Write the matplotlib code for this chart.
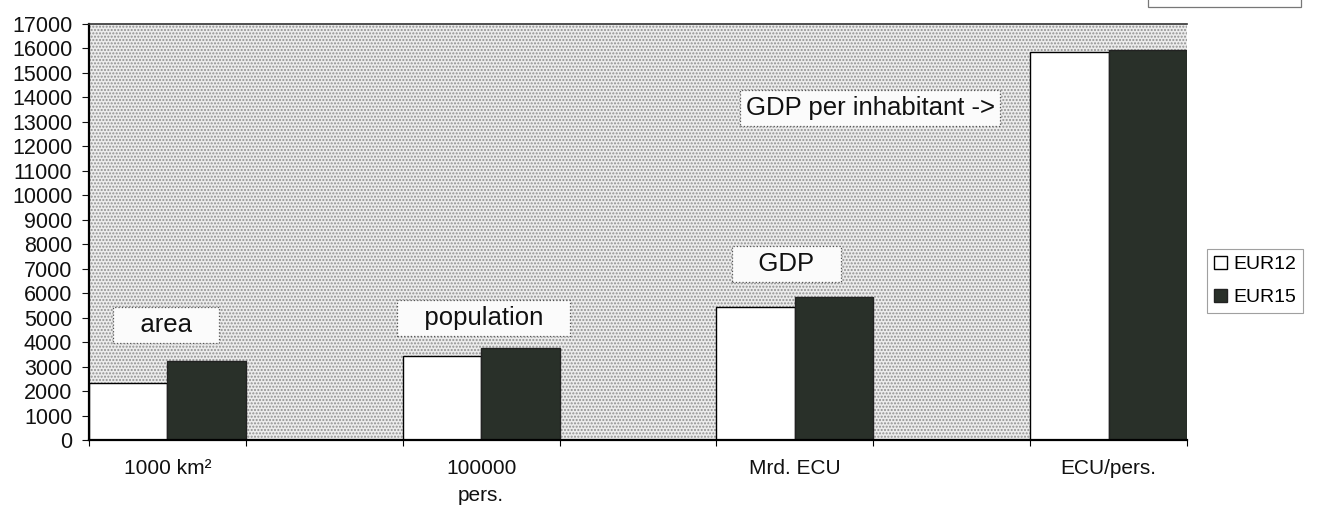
import numpy as np
import matplotlib.pyplot as plt
from matplotlib.patches import Rectangle

plt.rcParams['font.family'] = ['Liberation Sans', 'DejaVu Sans']
plt.rcParams['hatch.linewidth'] = 1.0

# EU12 vs EU15 key figures
units = ['1000 km²', '100000\npers.', 'Mrd. ECU', 'ECU/pers.']
eur12 = [2330, 3430, 5430, 15850]
eur15 = [3230, 3760, 5850, 15940]
series_names = ['EUR12', 'EUR15']

# boxed captions: text, x (category units), y (value)
captions = ['   area   ', '   population   ', '   GDP   ', 'GDP per inhabitant ->']
cap_x = [0.245, 1.258, 2.223, 2.49]
cap_y = [4700, 4990, 7190, 13570]

fig = plt.figure(figsize=(13.2, 5.12), dpi=100)
ax = fig.add_axes([89/1320, 72/512, 1098/1320, 416/512])

# stippled plot background
ax.patch.set_facecolor('#ececec')
ax.add_patch(Rectangle((0, 0), 1, 1, transform=ax.transAxes, facecolor='none',
                       hatch='.....', edgecolor='#909090', lw=0, zorder=0))

x = np.arange(len(units))
w = 0.25
ax.bar(x + w/2, eur12, width=w, color='white', edgecolor='black', lw=1.0,
       label=series_names[0], zorder=2)
ax.bar(x + 1.5*w, eur15, width=w, color='#293029', edgecolor='#222222', lw=1.0,
       label=series_names[1], zorder=2)

for t, cx, cy in zip(captions, cap_x, cap_y):
    ax.text(cx, cy, t, ha='center', va='center', fontsize=18.5, color='#111111', zorder=4,
            bbox=dict(boxstyle='square,pad=0.22', facecolor='#fbfbfb',
                      edgecolor='#555555', lw=0.9, linestyle=':'))

ax.set_xlim(0, 3.5)
ax.set_ylim(0, 17000)
ax.set_yticks(np.arange(0, 17001, 1000))
ax.tick_params(axis='y', labelsize=15.5, length=5, width=0.8, pad=7, colors='#111111')

# ticks at group edges, labels under group centres
edges = np.sort(np.concatenate([x, x + 2*w]))
ax.set_xticks(edges)
ax.set_xticklabels([])
ax.tick_params(axis='x', which='major', length=4, width=0.8)
ax.set_xticks(x + w, minor=True)
ax.set_xticklabels(units, minor=True, fontsize=15, linespacing=1.5, color='#111111')
ax.tick_params(axis='x', which='minor', length=0, pad=14)

for s in ['left', 'bottom']:
    ax.spines[s].set_linewidth(1.6)
ax.spines['top'].set_linewidth(1.2)
ax.spines['top'].set_color('#333333')
ax.spines['right'].set_visible(False)

leg = ax.legend(loc='center', bbox_to_anchor=(1255/1320, 1 - 281/512),
                bbox_transform=fig.transFigure, fontsize=14, frameon=True,
                fancybox=False, handlelength=0.7, handleheight=0.7,
                handletextpad=0.3, borderpad=0.35, labelspacing=0.8,
                borderaxespad=0)
leg.get_frame().set_edgecolor('#888888')
leg.get_frame().set_linewidth(0.8)

# box cut off at the top edge
fig.patches.append(Rectangle((1148/1320, 1 - 7/512), 153/1320, 0.05,
                             transform=fig.transFigure, facecolor='white',
                             edgecolor='#777777', lw=0.9))

fig.savefig('out.png', dpi=100)
